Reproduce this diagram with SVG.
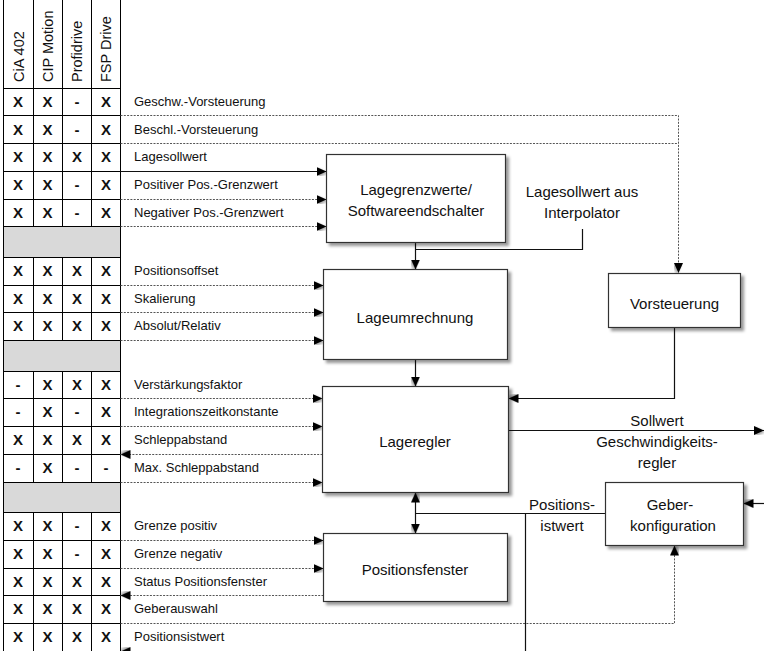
<svg xmlns="http://www.w3.org/2000/svg" width="764" height="651" viewBox="0 0 764 651">
  <defs>
    <filter id="shadow" x="-10%" y="-10%" width="130%" height="140%">
      <feDropShadow dx="3" dy="3" stdDeviation="1.5" flood-color="#000" flood-opacity="0.4"/>
    </filter>
    <filter id="ashadow" x="-30%" y="-30%" width="180%" height="180%">
      <feDropShadow dx="1.5" dy="1.5" stdDeviation="0.8" flood-color="#000" flood-opacity="0.35"/>
    </filter>
    <marker id="arrow" viewBox="0 0 10 9" refX="10" refY="4.5" markerWidth="10" markerHeight="9" markerUnits="userSpaceOnUse" orient="auto-start-reverse">
      <path d="M0,0 L10,4.5 L0,9 z" fill="#000" filter="url(#ashadow)"/>
    </marker>
    <style>
      .grid { stroke: #000; stroke-width: 1; fill: none; }
      .gray { fill: #d9d9d9; }
      .head { font-family: "Liberation Sans", Arial, sans-serif; font-size: 14.5px; fill: #111; }
      .mark { font-family: "Liberation Sans", Arial, sans-serif; font-size: 15px; font-weight: bold; fill: #111; text-anchor: middle; }
      .lbl { font-family: "Liberation Sans", Arial, sans-serif; font-size: 13px; fill: #111; }
      .box { fill: #fff; stroke: #333; stroke-width: 1.2; filter: url(#shadow); }
      .btxt { font-family: "Liberation Sans", Arial, sans-serif; font-size: 15px; fill: #111; text-anchor: middle; }
      .solid { stroke: #111; stroke-width: 1.2; fill: none; }
      .dot { stroke: #555; stroke-width: 1; stroke-dasharray: 2 1.3; fill: none; }
    </style>
  </defs>
  <rect width="764" height="651" fill="#fff"/>

  <!-- protocol support table -->
  <g id="table">
    <rect class="gray" x="3.5" y="226.5" width="117" height="31"/>
    <rect class="gray" x="3.5" y="340.5" width="117" height="31"/>
    <rect class="gray" x="3.5" y="482.5" width="117" height="30"/>
    <path class="grid" d="M3.5,0 V651 M33.5,0 V226.5 M62.5,0 V226.5 M91.5,0 V226.5 M120.5,0 V651
      M33.5,257.5 V340.5 M62.5,257.5 V340.5 M91.5,257.5 V340.5
      M33.5,371.5 V482.5 M62.5,371.5 V482.5 M91.5,371.5 V482.5
      M33.5,512.5 V651 M62.5,512.5 V651 M91.5,512.5 V651
      M3.5,88.5 H120.5 M3.5,115.5 H120.5 M3.5,143.5 H120.5 M3.5,171.5 H120.5 M3.5,199.5 H120.5 M3.5,226.5 H120.5
      M3.5,257.5 H120.5 M3.5,285.5 H120.5 M3.5,312.5 H120.5 M3.5,340.5 H120.5
      M3.5,371.5 H120.5 M3.5,398.5 H120.5 M3.5,426.5 H120.5 M3.5,454.5 H120.5 M3.5,482.5 H120.5
      M3.5,512.5 H120.5 M3.5,540.5 H120.5 M3.5,568.5 H120.5 M3.5,595.5 H120.5 M3.5,623.5 H120.5"/>
    <text class="head" transform="translate(23.5,82) rotate(-90)">CiA 402</text>
    <text class="head" transform="translate(53,82) rotate(-90)">CIP Motion</text>
    <text class="head" transform="translate(82,82) rotate(-90)">Profidrive</text>
    <text class="head" transform="translate(111,82) rotate(-90)">FSP Drive</text>

    <!-- marks: CiA 402, CIP Motion, Profidrive, FSP Drive -->
    <g class="mark">
      <text x="18" y="107">X</text><text x="47.5" y="107">X</text><text x="77" y="107">-</text><text x="106" y="107">X</text>
      <text x="18" y="134.5">X</text><text x="47.5" y="134.5">X</text><text x="77" y="134.5">-</text><text x="106" y="134.5">X</text>
      <text x="18" y="162">X</text><text x="47.5" y="162">X</text><text x="77" y="162">X</text><text x="106" y="162">X</text>
      <text x="18" y="190">X</text><text x="47.5" y="190">X</text><text x="77" y="190">-</text><text x="106" y="190">X</text>
      <text x="18" y="217.5">X</text><text x="47.5" y="217.5">X</text><text x="77" y="217.5">-</text><text x="106" y="217.5">X</text>

      <text x="18" y="276">X</text><text x="47.5" y="276">X</text><text x="77" y="276">X</text><text x="106" y="276">X</text>
      <text x="18" y="303.5">X</text><text x="47.5" y="303.5">X</text><text x="77" y="303.5">X</text><text x="106" y="303.5">X</text>
      <text x="18" y="331">X</text><text x="47.5" y="331">X</text><text x="77" y="331">X</text><text x="106" y="331">X</text>

      <text x="18" y="389.5">-</text><text x="47.5" y="389.5">X</text><text x="77" y="389.5">X</text><text x="106" y="389.5">X</text>
      <text x="18" y="417">-</text><text x="47.5" y="417">X</text><text x="77" y="417">-</text><text x="106" y="417">X</text>
      <text x="18" y="445">X</text><text x="47.5" y="445">X</text><text x="77" y="445">X</text><text x="106" y="445">X</text>
      <text x="18" y="472.5">-</text><text x="47.5" y="472.5">X</text><text x="77" y="472.5">-</text><text x="106" y="472.5">-</text>

      <text x="18" y="531">X</text><text x="47.5" y="531">X</text><text x="77" y="531">-</text><text x="106" y="531">X</text>
      <text x="18" y="558.5">X</text><text x="47.5" y="558.5">X</text><text x="77" y="558.5">-</text><text x="106" y="558.5">X</text>
      <text x="18" y="586.5">X</text><text x="47.5" y="586.5">X</text><text x="77" y="586.5">X</text><text x="106" y="586.5">X</text>
      <text x="18" y="614">X</text><text x="47.5" y="614">X</text><text x="77" y="614">X</text><text x="106" y="614">X</text>
      <text x="18" y="642">X</text><text x="47.5" y="642">X</text><text x="77" y="642">X</text><text x="106" y="642">X</text>
    </g>

    <!-- signal names -->
    <g class="lbl">
      <text x="134" y="106">Geschw.-Vorsteuerung</text>
      <text x="134" y="133.5">Beschl.-Vorsteuerung</text>
      <text x="134" y="161">Lagesollwert</text>
      <text x="134" y="189">Positiver Pos.-Grenzwert</text>
      <text x="134" y="216.5">Negativer Pos.-Grenzwert</text>
      <text x="134" y="275">Positionsoffset</text>
      <text x="134" y="302.5">Skalierung</text>
      <text x="134" y="330">Absolut/Relativ</text>
      <text x="134" y="388.5">Verstärkungsfaktor</text>
      <text x="134" y="416">Integrationszeitkonstante</text>
      <text x="134" y="444">Schleppabstand</text>
      <text x="134" y="471.5">Max. Schleppabstand</text>
      <text x="134" y="530">Grenze positiv</text>
      <text x="134" y="557.5">Grenze negativ</text>
      <text x="134" y="585.5">Status Positionsfenster</text>
      <text x="134" y="613">Geberauswahl</text>
      <text x="134" y="641">Positionsistwert</text>
    </g>
  </g>

  <!-- signal connections -->
  <g id="connectors">
    <path class="dot" d="M120.5,115.5 H678.5 V273" marker-end="url(#arrow)"/>
    <path class="dot" d="M120.5,143.5 H678.5"/>
    <path class="solid" d="M120.5,171.5 H326.5" marker-end="url(#arrow)"/>
    <path class="dot" d="M120.5,199.5 H326.5" marker-end="url(#arrow)"/>
    <path class="dot" d="M120.5,226.5 H326.5" marker-end="url(#arrow)"/>
    <path class="dot" d="M120.5,285.5 H323.5" marker-end="url(#arrow)"/>
    <path class="dot" d="M120.5,312.5 H323.5" marker-end="url(#arrow)"/>
    <path class="dot" d="M120.5,340.5 H323.5" marker-end="url(#arrow)"/>
    <path class="dot" d="M120.5,398.5 H322.5" marker-end="url(#arrow)"/>
    <path class="dot" d="M120.5,426.5 H322.5" marker-end="url(#arrow)"/>
    <path class="dot" d="M322.5,454.5 H120.5" marker-end="url(#arrow)"/>
    <path class="dot" d="M120.5,482.5 H322.5" marker-end="url(#arrow)"/>
    <path class="dot" d="M120.5,540.5 H323.5" marker-end="url(#arrow)"/>
    <path class="dot" d="M120.5,568.5 H323.5" marker-end="url(#arrow)"/>
    <path class="dot" d="M323.5,595.5 H120.5" marker-end="url(#arrow)"/>
    <path class="dot" d="M120.5,623.5 H674.5 V545.5" marker-end="url(#arrow)"/>

    <path class="solid" d="M415.5,242.5 V269.5" marker-end="url(#arrow)"/>
    <path class="solid" d="M582.5,229 V249.5 H415.5"/>
    <path class="solid" d="M415.5,359.5 V386.5" marker-end="url(#arrow)"/>
    <path class="solid" d="M674.5,327.5 V398.5 H508.5" marker-end="url(#arrow)"/>
    <path class="solid" d="M508.5,430.5 H764" marker-end="url(#arrow)"/>
    <path class="solid" d="M415.5,492.5 V533.5" marker-start="url(#arrow)" marker-end="url(#arrow)"/>
    <path class="solid" d="M605.5,513.5 H415.5"/>
    <path class="solid" d="M525.5,513.5 V651.5 H120.5" marker-end="url(#arrow)"/>
    <path class="solid" d="M764,503.5 H743.5" marker-end="url(#arrow)"/>
  </g>

  <!-- free labels -->
  <g id="labels" class="btxt">
    <text x="582" y="197">Lagesollwert aus</text>
    <text x="582" y="217.5">Interpolator</text>
    <text x="657" y="426">Sollwert</text>
    <text x="657" y="447">Geschwindigkeits-</text>
    <text x="657" y="468">regler</text>
    <text x="562" y="510">Positions-</text>
    <text x="562" y="531">istwert</text>
  </g>

  <g id="lagegrenzwerte">
    <rect class="box" x="326.5" y="154.5" width="179" height="88"/>
    <text class="btxt" x="416" y="195">Lagegrenzwerte/</text>
    <text class="btxt" x="416" y="216">Softwareendschalter</text>
  </g>
  <g id="lageumrechnung">
    <rect class="box" x="323.5" y="269.5" width="184" height="90"/>
    <text class="btxt" x="415" y="323">Lageumrechnung</text>
  </g>
  <g id="lageregler">
    <rect class="box" x="322.5" y="386.5" width="186" height="106"/>
    <text class="btxt" x="415" y="447">Lageregler</text>
  </g>
  <g id="positionsfenster">
    <rect class="box" x="323.5" y="533.5" width="184" height="68"/>
    <text class="btxt" x="415" y="575">Positionsfenster</text>
  </g>
  <g id="vorsteuerung">
    <rect class="box" x="608.5" y="273.5" width="132" height="54"/>
    <text class="btxt" x="674.5" y="309">Vorsteuerung</text>
  </g>
  <g id="geberkonfiguration">
    <rect class="box" x="605.5" y="482.5" width="138" height="63"/>
    <text class="btxt" x="670" y="510">Geber-</text>
    <text class="btxt" x="673" y="531">konfiguration</text>
  </g>
</svg>
